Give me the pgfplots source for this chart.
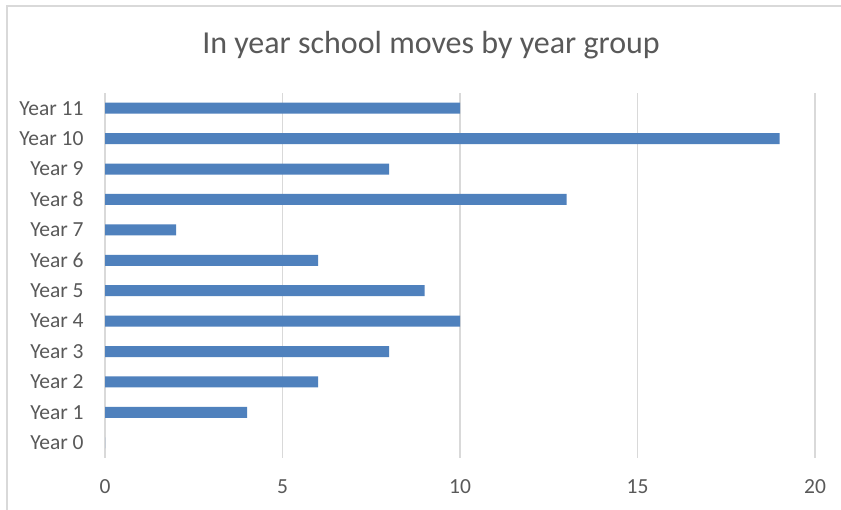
\documentclass[border=0pt]{standalone}
\usepackage{pgfplots}
\pgfplotsset{compat=1.18}
\usepackage{fontspec}
\setmainfont{Carlito}
\definecolor{barblue}{HTML}{4F81BD}
\definecolor{gridgray}{HTML}{D9D9D9}
\definecolor{txtgray}{HTML}{595959}
\begin{document}
\begin{tikzpicture}
\useasboundingbox (0,0) rectangle (841pt,510pt);
\fill[white] (0,0) rectangle (841pt,510pt);
\draw[gridgray, line width=2pt] (7pt,0) -- (7pt,504pt) -- (841pt,504pt);
\node[anchor=base, text=txtgray, font=\fontsize{32}{38}\selectfont, inner sep=0pt] at (431pt,456pt) {In year school moves by year group};
\begin{axis}[
 at={(105pt,52pt)}, anchor=south west,
 width=710pt, height=365pt, scale only axis,
 xbar, bar width=11pt,
 xmin=0, xmax=20, ymin=-0.5, ymax=11.5,
 xtick={0,5,10,15,20},
 ytick={0,...,11},
 yticklabels={Year 0,Year 1,Year 2,Year 3,Year 4,Year 5,Year 6,Year 7,Year 8,Year 9,Year 10,Year 11},
 xmajorgrids, grid style={gridgray, line width=1.3pt},
 axis line style={draw=none},
 major tick style={draw=none},
 tick label style={text=txtgray, font=\fontsize{21.5}{25}\selectfont},
 /pgf/number format/assume math mode=true,
 xticklabel style={anchor=center, yshift=-29pt},
 yticklabel style={anchor=east, inner sep=0pt, xshift=-17pt},
]
\addplot[fill=barblue, draw=none] coordinates {(0,0) (4,1) (6,2) (8,3) (10,4) (9,5) (6,6) (2,7) (13,8) (8,9) (19,10) (10,11)};
\end{axis}
\end{tikzpicture}
\end{document}
